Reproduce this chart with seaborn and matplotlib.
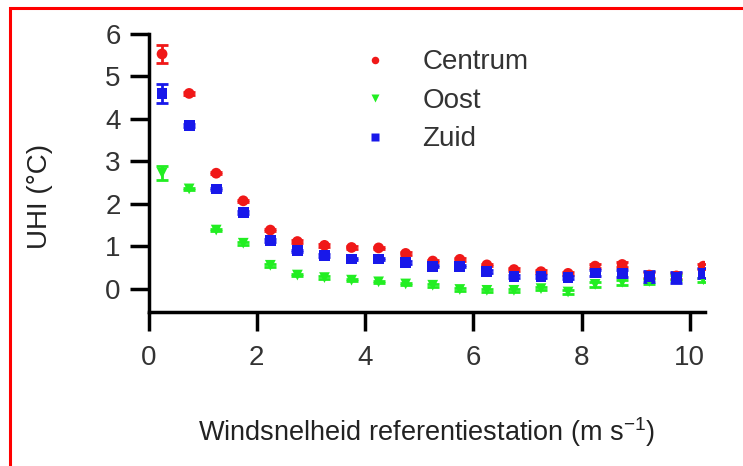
import numpy as np
import pandas as pd
import seaborn as sns
import matplotlib
matplotlib.use("Agg")
import matplotlib.pyplot as plt
from matplotlib import font_manager
from matplotlib.patches import Rectangle

# ---------------- data ----------------
wind = [0.25, 0.75, 1.25, 1.75, 2.25, 2.75, 3.25, 3.75, 4.25, 4.75, 5.25,
        5.75, 6.25, 6.75, 7.25, 7.75, 8.25, 8.75, 9.25, 9.75, 10.25]
centrum = [5.53, 4.60, 2.72, 2.07, 1.38, 1.11, 1.02, 0.97, 0.96, 0.83, 0.65,
           0.69, 0.56, 0.45, 0.40, 0.36, 0.53, 0.57, 0.32, 0.30, 0.53]
oost = [2.72, 2.35, 1.38, 1.07, 0.55, 0.32, 0.26, 0.20, 0.16, 0.11, 0.08,
        -0.02, -0.04, -0.04, 0.00, -0.08, 0.10, 0.15, 0.17, 0.26, 0.21]
zuid = [4.60, 3.84, 2.35, 1.80, 1.13, 0.89, 0.78, 0.70, 0.70, 0.62, 0.53,
        0.53, 0.40, 0.29, 0.28, 0.26, 0.37, 0.36, 0.28, 0.26, 0.36]
err_centrum = [0.21, 0.03, 0.03, 0.03, 0.03, 0.03, 0.03, 0.03, 0.03, 0.03, 0.03,
               0.03, 0.03, 0.03, 0.03, 0.03, 0.04, 0.06, 0.08, 0.08, 0.06]
err_oost = [0.17, 0.03, 0.03, 0.03, 0.03, 0.03, 0.03, 0.03, 0.03, 0.03, 0.03,
            0.03, 0.03, 0.03, 0.03, 0.04, 0.06, 0.06, 0.06, 0.06, 0.05]
err_zuid = [0.22, 0.03, 0.03, 0.03, 0.03, 0.03, 0.03, 0.03, 0.03, 0.03, 0.03,
            0.03, 0.03, 0.03, 0.03, 0.04, 0.07, 0.09, 0.13, 0.13, 0.12]
series_names = ["Centrum", "Oost", "Zuid"]
xticks = [0, 2, 4, 6, 8, 10]
yticks = [0, 1, 2, 3, 4, 5, 6]
xlabel = "Windsnelheid referentiestation (m s$^{\\mathregular{-1}}$)"
ylabel = "UHI (°C)"

df = pd.concat([
    pd.DataFrame({"wind": wind, "uhi": centrum, "err": err_centrum, "station": "Centrum"}),
    pd.DataFrame({"wind": wind, "uhi": oost, "err": err_oost, "station": "Oost"}),
    pd.DataFrame({"wind": wind, "uhi": zuid, "err": err_zuid, "station": "Zuid"}),
], ignore_index=True)

# ---------------- style ----------------
sns.set_theme(style="ticks")
names = {f.name for f in font_manager.fontManager.ttflist}
fam = "Liberation Sans Narrow" if "Liberation Sans Narrow" in names else "Liberation Sans"
plt.rcParams["font.family"] = [fam, "DejaVu Sans"]

colors = {"Centrum": "#f01818", "Oost": "#22ee22", "Zuid": "#1818ea"}
markers = {"Centrum": "o", "Oost": "v", "Zuid": "s"}

fig = plt.figure(figsize=(7.43, 4.66), dpi=100)
ax = fig.add_axes([0.1999, 0.3305, 0.9489 - 0.1999, 0.927 - 0.3305])

for name in series_names:
    sub = df[df["station"] == name]
    ax.errorbar(sub["wind"], sub["uhi"], yerr=sub["err"], fmt="none",
                ecolor=colors[name], elinewidth=2, capsize=4, capthick=2, zorder=2)

sns.scatterplot(data=df, x="wind", y="uhi", hue="station", style="station",
                palette=colors, markers=markers, hue_order=series_names,
                style_order=series_names, s=60, edgecolor="none", ax=ax, zorder=3)

ax.set_xlim(0, 10.28)
ax.set_ylim(-0.55, 6)
ax.set_xticks(xticks)
ax.set_yticks(yticks)
ax.tick_params(axis="both", direction="out", length=14, width=2.5, colors="black",
               labelsize=20, labelcolor="#333333", pad=6)
ax.tick_params(axis="x", pad=10)
for s in ["left", "bottom"]:
    ax.spines[s].set_linewidth(2.5)
    ax.spines[s].set_color("black")
sns.despine(ax=ax)
ax.set_xlabel(xlabel, fontsize=19.5, color="#222222")
ax.xaxis.set_label_coords(0.5, -0.37)
ax.set_ylabel(ylabel, fontsize=20, color="#222222")
ax.yaxis.set_label_coords(-0.195, 0.414)
ax.yaxis.label.set_va("center")

leg = ax.legend(loc="upper left", bbox_to_anchor=(0.337, 1.035), frameon=False,
                fontsize=20, markerscale=0.7, handletextpad=1.2, labelspacing=0.45,
                handlelength=1.0)
for t in leg.get_texts():
    t.set_color("#333333")

# red frame
fig.patches.append(Rectangle((10 / 743, -0.1), 1.2, (466 - 8) / 466 + 0.1,
                             transform=fig.transFigure, fill=False,
                             edgecolor="#ff0000", linewidth=2.2, zorder=10))

fig.savefig("out.png", dpi=100)
